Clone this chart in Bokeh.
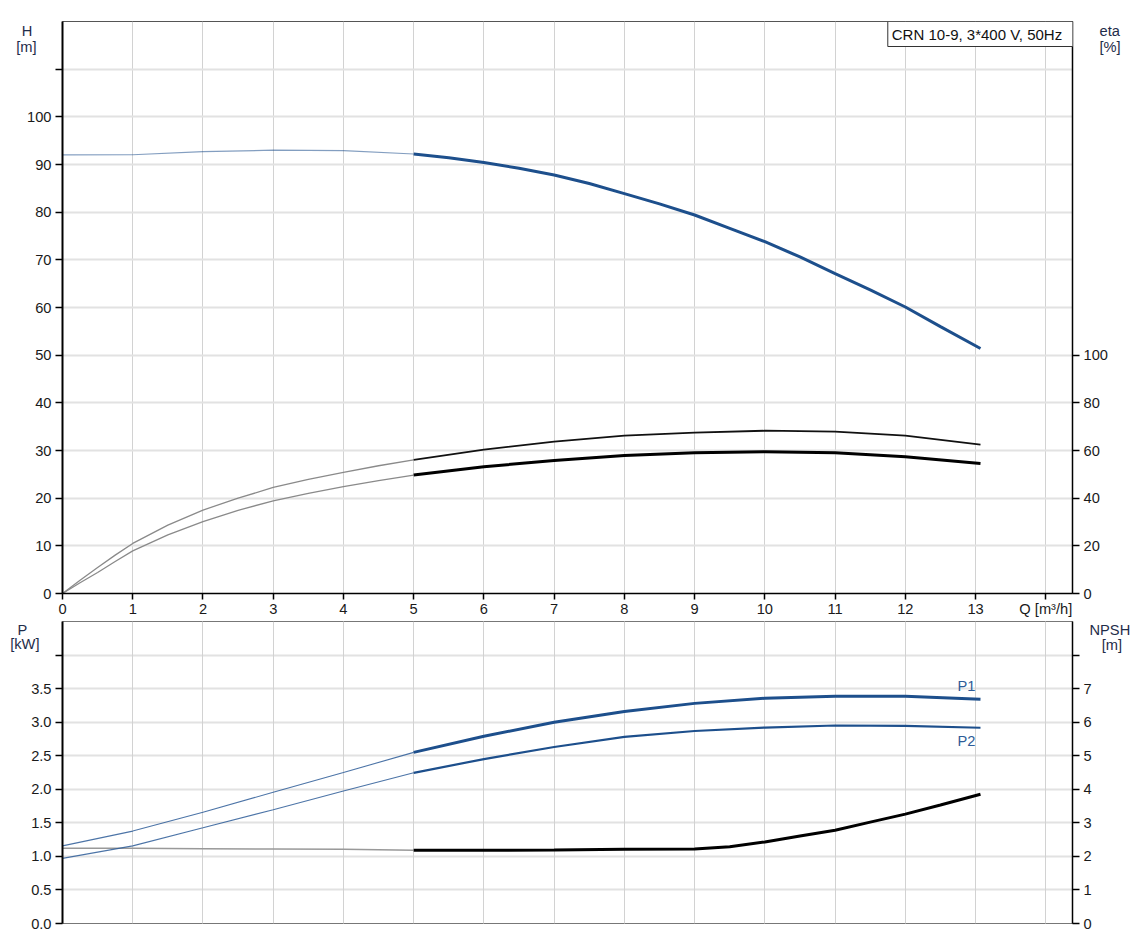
from bokeh.plotting import figure
from bokeh.layouts import column
from bokeh.models import Range1d, LinearAxis, FixedTicker, Label, Grid, PrintfTickFormatter
from bokeh.embed import file_html
from bokeh.resources import INLINE

# ---------------- data ----------------
Q_H = [0, 1, 2, 3, 4, 5, 5.5, 6, 6.5, 7, 7.5, 8, 8.5, 9, 9.5, 10, 10.5, 11, 11.5, 12, 12.5, 13.07]
H = [92.0, 92.05, 92.7, 93.0, 92.9, 92.2, 91.4, 90.4, 89.2, 87.8, 86.0, 83.9, 81.75, 79.4, 76.6,
     73.8, 70.6, 67.1, 63.7, 60.1, 56.0, 51.4]

Q_ETA = [0, 0.25, 0.5, 0.75, 1, 1.5, 2, 2.5, 3, 3.5, 4, 4.5, 5, 6, 7, 8, 9, 10, 11, 12, 13.07]
ETA_A = [0, 5.6, 10.9, 16.1, 21.0, 28.7, 35.0, 40.0, 44.5, 47.9, 50.8, 53.6, 56.1,
         60.4, 63.7, 66.2, 67.5, 68.3, 67.9, 66.2, 62.5]
ETA_B = [0, 4.5, 8.8, 13.4, 17.9, 24.6, 30.2, 34.9, 38.9, 42.0, 44.8, 47.4, 49.7,
         53.2, 55.8, 57.9, 59.1, 59.5, 59.1, 57.4, 54.5]

Q_P = [0, 1, 2, 3, 4, 5, 6, 7, 8, 9, 10, 11, 12, 13.07]
P1 = [1.157, 1.377, 1.657, 1.956, 2.25, 2.55, 2.79, 3.0, 3.16, 3.28, 3.356, 3.385, 3.385, 3.34]
P2 = [0.97, 1.157, 1.426, 1.696, 1.975, 2.245, 2.45, 2.63, 2.78, 2.868, 2.92, 2.95, 2.946, 2.917]

Q_NPSH = [0, 1, 2, 3, 4, 5, 6, 7, 8, 9, 9.5, 10, 10.5, 11, 11.5, 12, 12.5, 13.07]
NPSH = [2.245, 2.24, 2.23, 2.22, 2.21, 2.18, 2.18, 2.19, 2.21, 2.22, 2.29, 2.43, 2.61, 2.78,
        3.02, 3.26, 3.53, 3.85]

Q_TICKS = list(range(15))
H_TICKS = list(range(0, 111, 10))
ETA_TICKS = list(range(0, 101, 20))
P_TICKS = [i * 0.5 for i in range(9)]
NPSH_TICKS = list(range(9))
Q_SPLIT = 5  # duty range starts here (thin -> thick)

TITLE = "CRN 10-9, 3*400 V, 50Hz"
NB = "\u00a0"

FONT = "Liberation Sans"
FS = "11pt"
TXT = "#1a1a1a"
TITLE_C = "#1f2d4a"
BLUE = "#1d4f8c"
LBLUE = "#2d5c98"
XMAX = 14.38


def split(q, v, at):
    a = [(x, y) for x, y in zip(q, v) if x <= at]
    b = [(x, y) for x, y in zip(q, v) if x >= at]
    return [x for x, _ in a], [y for _, y in a], [x for x, _ in b], [y for _, y in b]


def style_axis(ax, width=1.5):
    ax.axis_line_color = "black"
    ax.axis_line_width = width
    ax.major_tick_line_color = "black"
    ax.major_tick_line_width = 1.5
    ax.major_tick_out = 7
    ax.major_tick_in = 0
    ax.minor_tick_line_color = None
    ax.major_label_text_font = FONT
    ax.major_label_text_font_size = FS
    ax.major_label_text_color = TXT
    ax.major_label_standoff = 4


def title_axis(p, side, ticks, labels, standoff, y_range_name="default"):
    ax = LinearAxis(ticker=FixedTicker(ticks=ticks), y_range_name=y_range_name)
    ax.major_label_overrides = dict(zip(ticks, labels))
    ax.axis_line_color = None
    ax.major_tick_line_color = None
    ax.minor_tick_line_color = None
    ax.major_tick_out = 0
    ax.major_tick_in = 0
    ax.major_label_standoff = standoff
    ax.major_label_text_font = FONT
    ax.major_label_text_font_size = FS
    ax.major_label_text_color = TITLE_C
    p.add_layout(ax, side)


# ---------------- top: H / eta ----------------
p1 = figure(width=1133, height=621, x_range=Range1d(0, XMAX), y_range=Range1d(0, 120),
            output_backend="svg", toolbar_location=None,
            min_border_left=62, min_border_right=61, min_border_top=21, min_border_bottom=28)
p1.extra_y_ranges = {"eta": Range1d(0, 240)}
p1.outline_line_color = "#555555"
p1.outline_line_width = 1

p1.xaxis.ticker = FixedTicker(ticks=Q_TICKS)
p1.xaxis.major_label_overrides = {14: "Q [m\u00b3/h]"}
style_axis(p1.xaxis[0], 1.5)
p1.xaxis.major_tick_out = 6
p1.xaxis.major_label_standoff = 1

p1.yaxis.ticker = FixedTicker(ticks=H_TICKS)
p1.yaxis.major_label_overrides = {110: ""}
style_axis(p1.yaxis[0], 2)

eta_axis = LinearAxis(y_range_name="eta", ticker=FixedTicker(ticks=ETA_TICKS))
style_axis(eta_axis, 1.5)
p1.add_layout(eta_axis, "right")

p1.xgrid.grid_line_color = "#d2d2d2"
p1.xgrid.grid_line_width = 1
p1.ygrid.grid_line_color = "#e2e2e2"
p1.ygrid.grid_line_width = 2

qa, ha, qb, hb = split(Q_H, H, Q_SPLIT)
p1.line(qa, ha, line_color=BLUE, line_width=1.2, line_alpha=0.55)
p1.line(qb, hb, line_color=BLUE, line_width=3)

qa, ea, qb, eb = split(Q_ETA, ETA_A, Q_SPLIT)
p1.line(qa, ea, line_color="#8a8a8a", line_width=1.3, y_range_name="eta")
p1.line(qb, eb, line_color="#111111", line_width=1.8, y_range_name="eta")
qa, ea, qb, eb = split(Q_ETA, ETA_B, Q_SPLIT)
p1.line(qa, ea, line_color="#8a8a8a", line_width=1.3, y_range_name="eta")
p1.line(qb, eb, line_color="#000000", line_width=3, y_range_name="eta")

p1.add_layout(Label(x=XMAX, y=120, x_offset=2, text=TITLE + NB + NB, text_font=FONT,
                    text_font_size="15px", text_color="#111111", text_align="right",
                    text_baseline="top", background_fill_color="white",
                    border_line_color="#333333", border_line_width=1, padding=4))

title_axis(p1, "left", [118.1, 114.6], ["H" + NB, "[m]"], -12)
title_axis(p1, "right", [118.1, 114.6], ["eta", "[%]"], -11)

# ---------------- bottom: P / NPSH ----------------
p2 = figure(width=1133, height=310, x_range=Range1d(0, XMAX), y_range=Range1d(0, 4.5),
            output_backend="svg", toolbar_location=None, x_axis_location=None,
            min_border_left=62, min_border_right=61, min_border_top=0, min_border_bottom=8)
p2.extra_y_ranges = {"npsh": Range1d(0, 9)}
p2.outline_line_color = "#777777"
p2.outline_line_width = 1

p2.yaxis.ticker = FixedTicker(ticks=P_TICKS)
p2.yaxis.formatter = PrintfTickFormatter(format="%.1f")
p2.yaxis.major_label_overrides = {4.0: ""}
style_axis(p2.yaxis[0], 2)

npsh_axis = LinearAxis(y_range_name="npsh", ticker=FixedTicker(ticks=NPSH_TICKS))
npsh_axis.major_label_overrides = {8: ""}
style_axis(npsh_axis, 1.5)
p2.add_layout(npsh_axis, "right")

p2.ygrid.grid_line_color = "#e2e2e2"
p2.ygrid.grid_line_width = 2
p2.add_layout(Grid(dimension=0, ticker=FixedTicker(ticks=Q_TICKS),
                   grid_line_color="#d2d2d2", grid_line_width=1))

qa, va, qb, vb = split(Q_NPSH, NPSH, Q_SPLIT)
p2.line(qa, va, line_color="#999999", line_width=1.5, y_range_name="npsh")
p2.line(qb, vb, line_color="#000000", line_width=3, y_range_name="npsh")

qa, va, qb, vb = split(Q_P, P1, Q_SPLIT)
p2.line(qa, va, line_color=LBLUE, line_width=1.1, line_alpha=0.85)
p2.line(qb, vb, line_color=BLUE, line_width=3)
qa, va, qb, vb = split(Q_P, P2, Q_SPLIT)
p2.line(qa, va, line_color=LBLUE, line_width=1.1, line_alpha=0.85)
p2.line(qb, vb, line_color=BLUE, line_width=2.2)

p2.add_layout(Label(x=Q_P[-1] - 0.2, y=P1[-1] + 0.08, text="P1", text_font=FONT,
                    text_font_size=FS, text_color=LBLUE, text_align="center",
                    text_baseline="bottom"))
p2.add_layout(Label(x=Q_P[-1] - 0.2, y=P2[-1] - 0.08, text="P2", text_font=FONT,
                    text_font_size=FS, text_color=LBLUE, text_align="center",
                    text_baseline="top"))

title_axis(p2, "left", [4.39, 4.16], ["P" + NB * 3, "[kW]"], -11)
title_axis(p2, "right", [4.40, 4.15], ["NPSH", NB * 3 + "[m]"], -5)

layout = column(p1, p2, spacing=0)
open("out.html", "w").write(file_html(layout, INLINE))
